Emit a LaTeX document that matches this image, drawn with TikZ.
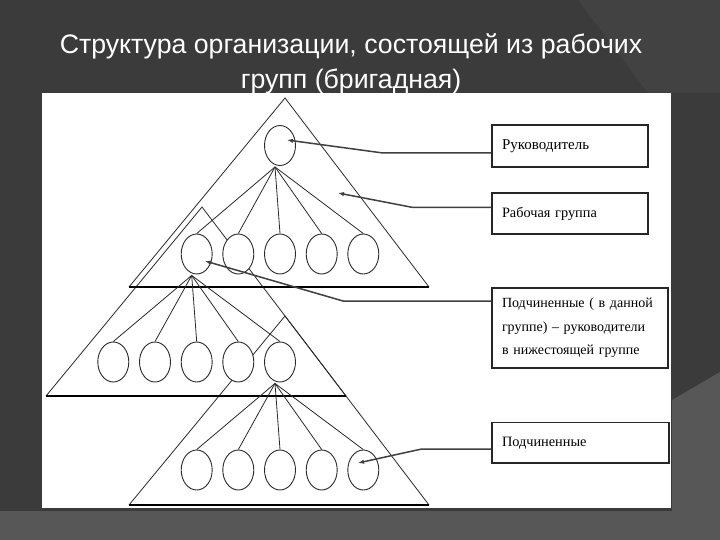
\documentclass[tikz,border=0pt]{standalone}
\usepackage{fontspec}
\setmainfont{Liberation Serif}
\newfontfamily\titlefont{Liberation Sans}
\usetikzlibrary{shapes.geometric,arrows.meta}
\definecolor{bgdark}{HTML}{3B3B3B}
\definecolor{bglight}{HTML}{575757}
\definecolor{bgmid}{HTML}{424242}
\definecolor{inkline}{HTML}{2A2A2A}
\begin{document}
\begin{tikzpicture}[x=1pt,y=-1pt,
  member/.style={ellipse,draw=inkline,fill=white,line width=0.9pt,minimum width=31pt,minimum height=40pt,inner sep=0pt},
  side/.style={draw=inkline,line width=0.8pt},
  basebar/.style={draw=black,line width=2pt},
  fan/.style={draw=inkline,line width=0.8pt},
  lblbox/.style={draw=black!85,line width=1.8pt,fill=white,inner xsep=10pt,inner ysep=0pt,align=left,font=\fontsize{14.3}{23.5}\selectfont},
  pointer/.style={draw=black!75,line width=1.5pt,-{Latex[length=6pt,width=4.5pt]}},
  titletext/.style={text=white,font=\titlefont\fontsize{26.7}{30}\selectfont,inner sep=0pt,anchor=base}
]
\useasboundingbox (0,0) rectangle (720,540);
% background
\fill[bgdark] (0,0) rectangle (720,540);
\fill[bgmid] (578,0) -- (720,0) -- (720,93) -- (648,93) -- cycle;
\fill[bglight] (0,511) -- (720,511) -- (720,540) -- (0,540) -- cycle;
\fill[bglight] (672,400) -- (720,372) -- (720,540) -- (672,540) -- cycle;
% white panel
\fill[white] (42,93) rectangle (671,508);
% title
\node[titletext] (t1) at (351,54) {Структура организации, состоящей из рабочих};
\node[titletext] (t2) at (351,89) {групп (бригадная)};
% triangles
\coordinate (apexA) at (285,98);  \coordinate (leftA) at (129,287); \coordinate (rightA) at (429,287);
\coordinate (apexB) at (202,207); \coordinate (leftB) at (46,396);  \coordinate (rightB) at (346,396);
\coordinate (apexC) at (285,316); \coordinate (leftC) at (129,505); \coordinate (rightC) at (429,505);
\draw[side] (leftA) -- (apexA) -- (rightA);
\draw[side] (leftB) -- (apexB) -- (rightB);
\draw[side] (leftC) -- (apexC) -- (rightC);
\draw[basebar] (leftA) -- (rightA);
\draw[basebar] (leftB) -- (rightB);
\draw[basebar] (leftC) -- (rightC);
% members
\node[member] (lead) at (280,145.5) {};
\node[member] (r1a) at (196.7,254) {};
\node[member] (r1b) at (238.3,254) {};
\node[member] (r1c) at (280,254) {};
\node[member] (r1d) at (321.7,254) {};
\node[member] (r1e) at (363.3,254) {};
\node[member] (r2a) at (113.3,362) {};
\node[member] (r2b) at (155,362) {};
\node[member] (r2c) at (196.7,362) {};
\node[member] (r2d) at (238.3,362) {};
\node[member] (r2e) at (280,362) {};
\node[member] (r3a) at (196.7,470) {};
\node[member] (r3b) at (238.3,470) {};
\node[member] (r3c) at (280,470) {};
\node[member] (r3d) at (321.7,470) {};
\node[member] (r3e) at (363.3,470) {};
% fans
\coordinate (hubA) at ([xshift=-5pt,yshift=-1pt]lead.south);
\coordinate (hubB) at ([xshift=-5pt,yshift=-1pt]r1a.south);
\coordinate (hubC) at ([xshift=-5pt,yshift=-1pt]r2e.south);
\foreach \c in {r1a,r1b,r1c,r1d,r1e} \draw[fan] (hubA) -- (\c.north);
\foreach \c in {r2a,r2b,r2c,r2d,r2e} \draw[fan] (hubB) -- (\c.north);
\foreach \c in {r3a,r3b,r3c,r3d,r3e} \draw[fan] (hubC) -- (\c.north);
% label boxes
\node[lblbox,text width=136pt,minimum height=42pt,font=\fontsize{15}{23.5}\selectfont] (b1) at (570,146) {Руководитель};
\node[lblbox,text width=136pt,minimum height=41pt] (b2) at (570,213.5) {Рабочая группа};
\node[lblbox,text width=160pt,inner xsep=8pt,minimum height=80pt,font=\fontsize{14}{23.5}\selectfont] (b3) at (580,328) {\hspace*{2pt}Подчиненные ( в данной\\\hspace*{2pt}группе) – руководители\\\hspace*{2pt}в нижестоящей группе};
\node[lblbox,text width=157pt,minimum height=40.5pt] (b4) at (580.5,442.75) {Подчиненные};
% pointers
\coordinate (k1) at (383,153);   \coordinate (p1) at (287,140);
\coordinate (k2) at (413,207.5); \coordinate (p2) at (338,193);
\coordinate (k3) at (343,301);   \coordinate (p3) at (205,261);
\coordinate (k4) at (421.7,449); \coordinate (p4) at (358,463);
\draw[pointer] (b1.west |- k1) -- (k1) -- (p1);
\draw[pointer] (b2.west |- k2) -- (k2) -- (p2);
\draw[pointer] (b3.west |- k3) -- (k3) -- (p3);
\draw[pointer] (b4.west |- k4) -- (k4) -- (p4);
\end{tikzpicture}
\end{document}
